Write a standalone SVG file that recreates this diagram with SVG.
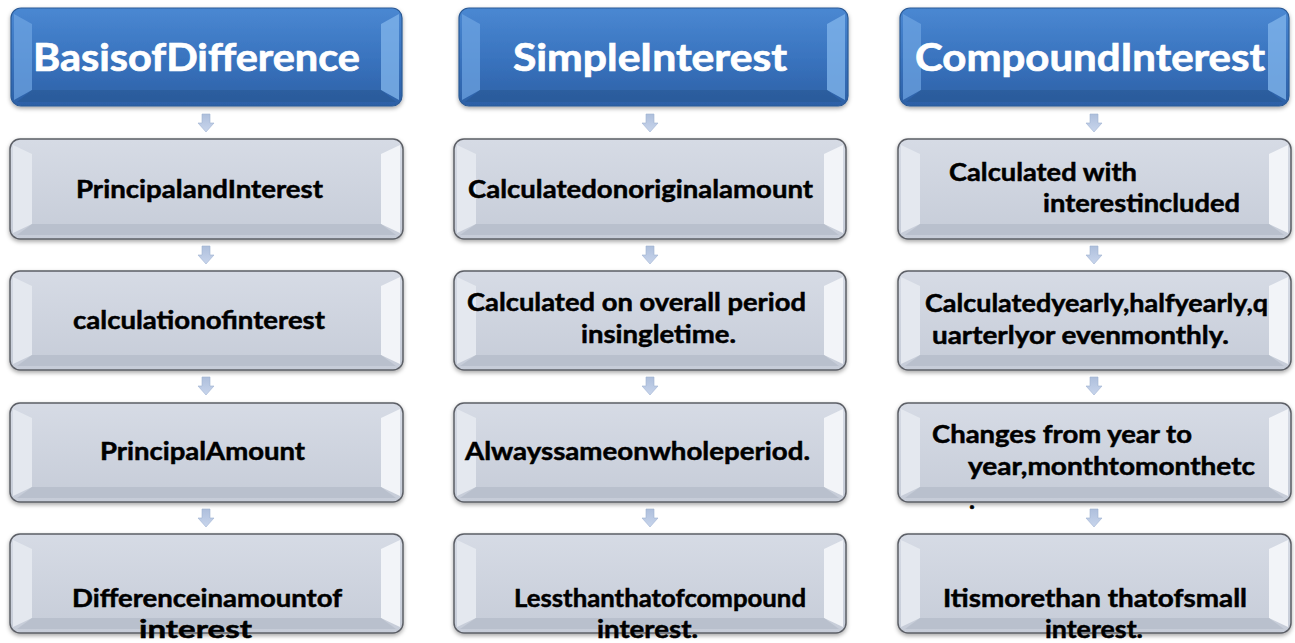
<svg xmlns="http://www.w3.org/2000/svg" width="1295" height="643" viewBox="0 0 1295 643">
<defs>
<linearGradient id="gBlue" x1="0" y1="0" x2="0" y2="1">
<stop offset="0" stop-color="#4a88d2"/><stop offset="0.5" stop-color="#3a74bf"/><stop offset="1" stop-color="#2c60a6"/>
</linearGradient>
<linearGradient id="gGray" x1="0" y1="0" x2="0" y2="1">
<stop offset="0" stop-color="#d6dbe5"/><stop offset="1" stop-color="#c6ccd8"/>
</linearGradient>
<linearGradient id="gArrow" x1="0" y1="0" x2="0" y2="1">
<stop offset="0" stop-color="#aebfdc"/><stop offset="1" stop-color="#c8d5ec"/>
</linearGradient>
<filter id="sh" x="-5%" y="-10%" width="110%" height="130%">
<feDropShadow dx="0" dy="2" stdDeviation="2" flood-color="#000" flood-opacity="0.35"/>
</filter>
</defs>
<style>
.hb{fill:url(#gBlue);stroke:#2b5a96;stroke-width:1.2;filter:url(#sh)}
.gb{fill:url(#gGray);stroke:#5c5f66;stroke-width:1.5;filter:url(#sh)}
.hl{fill:#6fa5e2;opacity:0.7}
.hr{fill:#7eb3ea;opacity:0.8}
.hbtm{fill:#25558f;opacity:0.5}
.gl{fill:#e4e8ef}
.gr{fill:#f2f4f8}
.gbtm{fill:#b9c0cd}
.th{font-family:Lato,"Open Sans",sans-serif;font-weight:700;font-size:38px;fill:#ffffff;stroke:#ffffff;stroke-width:0.7}
.tb{font-family:Lato,"Open Sans",sans-serif;font-weight:700;font-size:25px;fill:#000000;stroke:#000000;stroke-width:0.5}
.arr{fill:url(#gArrow);stroke:#9fb2d2;stroke-width:0.6}
</style>

<g id="connectors">
<polygon class="arr" points="202,114 210,114 210,123 214,123 206,132 198,123 202,123"/>
<polygon class="arr" points="202,246 210,246 210,255 214,255 206,264 198,255 202,255"/>
<polygon class="arr" points="202,377 210,377 210,386 214,386 206,395 198,386 202,386"/>
<polygon class="arr" points="202,509 210,509 210,518 214,518 206,527 198,518 202,518"/>
<polygon class="arr" points="646,114 654,114 654,123 658,123 650,132 642,123 646,123"/>
<polygon class="arr" points="646,246 654,246 654,255 658,255 650,264 642,255 646,255"/>
<polygon class="arr" points="646,377 654,377 654,386 658,386 650,395 642,386 646,386"/>
<polygon class="arr" points="646,509 654,509 654,518 658,518 650,527 642,518 646,518"/>
<polygon class="arr" points="1090,114 1098,114 1098,123 1102,123 1094,132 1086,123 1090,123"/>
<polygon class="arr" points="1090,246 1098,246 1098,255 1102,255 1094,264 1086,255 1090,255"/>
<polygon class="arr" points="1090,377 1098,377 1098,386 1102,386 1094,395 1086,386 1090,386"/>
<polygon class="arr" points="1090,509 1098,509 1098,518 1102,518 1094,527 1086,518 1090,518"/>
</g>

<g id="h1">
<rect class="hb" x="11" y="8" width="391" height="98" rx="10"/>
<polygon class="hl" points="14,14 32,24 32,90 14,100"/>
<polygon class="hr" points="399,14 381,24 381,90 399,100"/>
<polygon class="hbtm" points="32,90 381,90 396,102 17,102"/>
<text class="th" x="33" y="71" textLength="327" lengthAdjust="spacingAndGlyphs">BasisofDifference</text>
</g>
<g id="h2">
<rect class="hb" x="459" y="8" width="389" height="98" rx="10"/>
<polygon class="hl" points="462,14 480,24 480,90 462,100"/>
<polygon class="hr" points="845,14 827,24 827,90 845,100"/>
<polygon class="hbtm" points="480,90 827,90 842,102 465,102"/>
<text class="th" x="513" y="71" textLength="274" lengthAdjust="spacingAndGlyphs">SimpleInterest</text>
</g>
<g id="h3">
<rect class="hb" x="900" y="8" width="389" height="98" rx="10"/>
<polygon class="hl" points="903,14 921,24 921,90 903,100"/>
<polygon class="hr" points="1286,14 1268,24 1268,90 1286,100"/>
<polygon class="hbtm" points="921,90 1268,90 1283,102 906,102"/>
<text class="th" x="915" y="71" textLength="350" lengthAdjust="spacingAndGlyphs">CompoundInterest</text>
</g>

<g id="c1r1">
<rect class="gb" x="10" y="139" width="393" height="100" rx="10"/>
<polygon class="gl" points="13,145 32,154 32,224 13,233"/>
<polygon class="gr" points="400,145 381,154 381,224 400,233"/>
<polygon class="gbtm" points="32,224 381,224 396,235 17,235"/>
<text class="tb" x="76" y="198" textLength="247" lengthAdjust="spacingAndGlyphs">PrincipalandInterest</text>
</g>
<g id="c1r2">
<rect class="gb" x="10" y="271" width="393" height="99" rx="10"/>
<polygon class="gl" points="13,277 32,286 32,355 13,364"/>
<polygon class="gr" points="400,277 381,286 381,355 400,364"/>
<polygon class="gbtm" points="32,355 381,355 396,366 17,366"/>
<text class="tb" x="73" y="329" textLength="252" lengthAdjust="spacingAndGlyphs">calculationofinterest</text>
</g>
<g id="c1r3">
<rect class="gb" x="10" y="403" width="393" height="99" rx="10"/>
<polygon class="gl" points="13,409 32,418 32,487 13,496"/>
<polygon class="gr" points="400,409 381,418 381,487 400,496"/>
<polygon class="gbtm" points="32,487 381,487 396,498 17,498"/>
<text class="tb" x="100" y="460" textLength="205" lengthAdjust="spacingAndGlyphs">PrincipalAmount</text>
</g>
<g id="c1r4">
<rect class="gb" x="10" y="534" width="393" height="99" rx="10"/>
<polygon class="gl" points="13,540 32,549 32,618 13,627"/>
<polygon class="gr" points="400,540 381,549 381,618 400,627"/>
<polygon class="gbtm" points="32,618 381,618 396,629 17,629"/>
<text class="tb" x="72" y="607" textLength="270" lengthAdjust="spacingAndGlyphs">Differenceinamountof</text>
<text class="tb" x="139" y="638" textLength="113" lengthAdjust="spacingAndGlyphs">interest</text>
</g>

<g id="c2r1">
<rect class="gb" x="454" y="139" width="392" height="100" rx="10"/>
<polygon class="gl" points="457,145 476,154 476,224 457,233"/>
<polygon class="gr" points="843,145 824,154 824,224 843,233"/>
<polygon class="gbtm" points="476,224 824,224 839,235 460,235"/>
<text class="tb" x="468" y="198" textLength="345" lengthAdjust="spacingAndGlyphs">Calculatedonoriginalamount</text>
</g>
<g id="c2r2">
<rect class="gb" x="454" y="271" width="392" height="99" rx="10"/>
<polygon class="gl" points="457,277 476,286 476,355 457,364"/>
<polygon class="gr" points="843,277 824,286 824,355 843,364"/>
<polygon class="gbtm" points="476,355 824,355 839,366 460,366"/>
<text class="tb" x="467" y="311" textLength="339" lengthAdjust="spacingAndGlyphs">Calculated on overall period</text>
<text class="tb" x="581" y="343" textLength="155" lengthAdjust="spacingAndGlyphs">insingletime.</text>
</g>
<g id="c2r3">
<rect class="gb" x="454" y="403" width="392" height="99" rx="10"/>
<polygon class="gl" points="457,409 476,418 476,487 457,496"/>
<polygon class="gr" points="843,409 824,418 824,487 843,496"/>
<polygon class="gbtm" points="476,487 824,487 839,498 460,498"/>
<text class="tb" x="465" y="460" textLength="345" lengthAdjust="spacingAndGlyphs">Alwayssameonwholeperiod.</text>
</g>
<g id="c2r4">
<rect class="gb" x="454" y="534" width="392" height="99" rx="10"/>
<polygon class="gl" points="457,540 476,549 476,618 457,627"/>
<polygon class="gr" points="843,540 824,549 824,618 843,627"/>
<polygon class="gbtm" points="476,618 824,618 839,629 460,629"/>
<text class="tb" x="514" y="607" textLength="292" lengthAdjust="spacingAndGlyphs">Lessthanthatofcompound</text>
<text class="tb" x="597" y="638" textLength="101" lengthAdjust="spacingAndGlyphs">interest.</text>
</g>

<g id="c3r1">
<rect class="gb" x="898" y="139" width="393" height="100" rx="10"/>
<polygon class="gl" points="901,145 920,154 920,224 901,233"/>
<polygon class="gr" points="1288,145 1269,154 1269,224 1288,233"/>
<polygon class="gbtm" points="920,224 1269,224 1284,235 905,235"/>
<text class="tb" x="949" y="181" textLength="188" lengthAdjust="spacingAndGlyphs">Calculated with</text>
<text class="tb" x="1043" y="212" textLength="197" lengthAdjust="spacingAndGlyphs">interestincluded</text>
</g>
<g id="c3r2">
<rect class="gb" x="898" y="271" width="393" height="99" rx="10"/>
<polygon class="gl" points="901,277 920,286 920,355 901,364"/>
<polygon class="gr" points="1288,277 1269,286 1269,355 1288,364"/>
<polygon class="gbtm" points="920,355 1269,355 1284,366 905,366"/>
<text class="tb" x="925" y="312" textLength="343" lengthAdjust="spacingAndGlyphs">Calculatedyearly,halfyearly,q</text>
<text class="tb" x="932" y="344" textLength="297" lengthAdjust="spacingAndGlyphs">uarterlyor evenmonthly.</text>
</g>
<g id="c3r3">
<rect class="gb" x="898" y="403" width="393" height="99" rx="10"/>
<polygon class="gl" points="901,409 920,418 920,487 901,496"/>
<polygon class="gr" points="1288,409 1269,418 1269,487 1288,496"/>
<polygon class="gbtm" points="920,487 1269,487 1284,498 905,498"/>
<text class="tb" x="932" y="443" textLength="260" lengthAdjust="spacingAndGlyphs">Changes from year to</text>
<text class="tb" x="968" y="475" textLength="287" lengthAdjust="spacingAndGlyphs">year,monthtomonthetc</text>
<text class="tb" x="969" y="509">.</text>
</g>
<g id="c3r4">
<rect class="gb" x="898" y="534" width="393" height="99" rx="10"/>
<polygon class="gl" points="901,540 920,549 920,618 901,627"/>
<polygon class="gr" points="1288,540 1269,549 1269,618 1288,627"/>
<polygon class="gbtm" points="920,618 1269,618 1284,629 905,629"/>
<text class="tb" x="943" y="607" textLength="304" lengthAdjust="spacingAndGlyphs">Itismorethan thatofsmall</text>
<text class="tb" x="1045" y="638" textLength="98" lengthAdjust="spacingAndGlyphs">interest.</text>
</g>
</svg>
